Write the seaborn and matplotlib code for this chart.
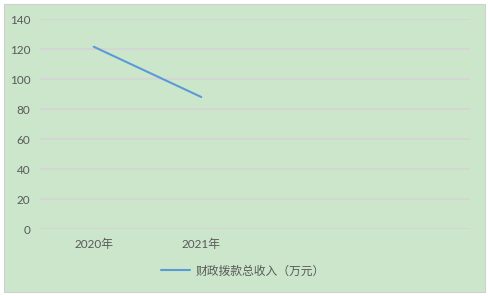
import numpy as np
import pandas as pd
import matplotlib
matplotlib.use("Agg")
import matplotlib.pyplot as plt
import seaborn as sns
from matplotlib.patches import Rectangle

categories = ["2020年", "2021年", "", ""]
values = [121.5, 88.0, np.nan, np.nan]
series_name = "财政拨款总收入（万元）"
yticks = [0, 20, 40, 60, 80, 100, 120, 140]

sns.set_theme(style="white")
plt.rcParams['font.family'] = ['Lato', 'Noto Sans CJK SC', 'DejaVu Sans']

bg = "#CCE6CC"
W, H = 488, 296
fig = plt.figure(figsize=(W / 100, H / 100), dpi=100)
fig.patch.set_facecolor("white")
fig.patches.append(Rectangle((4 / W, 4 / H), (485 - 4) / W, (292 - 4) / H,
                             transform=fig.transFigure, facecolor=bg,
                             edgecolor="#D0D0D0", linewidth=0.8, zorder=-10))

ax = fig.add_axes([40 / W, (H - 229) / H, (470 - 40) / W, (229 - 19) / H])
ax.set_zorder(5)
ax.set_facecolor("none")

df = pd.DataFrame({"pos": np.arange(len(categories)), "value": values, "series": series_name})
sns.lineplot(data=df, x="pos", y="value", hue="series", palette=["#5B9BD5"],
             linewidth=1.5, ax=ax, legend=True)

ax.set_xlim(-0.5, len(categories) - 0.5)
ax.set_ylim(0, 140)
ax.set_yticks(yticks)
ax.set_yticklabels([str(v) for v in yticks])
ax.set_xticks(np.arange(len(categories)))
ax.set_xticklabels(categories)
ax.set_xlabel("")
ax.set_ylabel("")
for s in ax.spines.values():
    s.set_visible(False)
ax.yaxis.grid(True, color="#D6D3D6", linewidth=1.1, linestyle="-")
ax.xaxis.grid(False)
ax.set_axisbelow(True)
ax.tick_params(axis="both", length=0, colors="#595959", labelsize=8.5)
ax.tick_params(axis="y", pad=7)
ax.tick_params(axis="x", pad=7)
for lab in ax.get_xticklabels() + ax.get_yticklabels():
    lab.set_family(['Lato', 'Noto Sans CJK SC'])

leg = ax.legend(loc="center", bbox_to_anchor=(243 / W, (H - 271) / H),
                bbox_transform=fig.transFigure, frameon=False, fontsize=8.5,
                handlelength=2.4, handletextpad=0.5)
for t in leg.get_texts():
    t.set_color("#595959")
    t.set_family(['Noto Sans CJK SC', 'DejaVu Sans'])

fig.savefig("out.png", dpi=100, facecolor=fig.get_facecolor())
